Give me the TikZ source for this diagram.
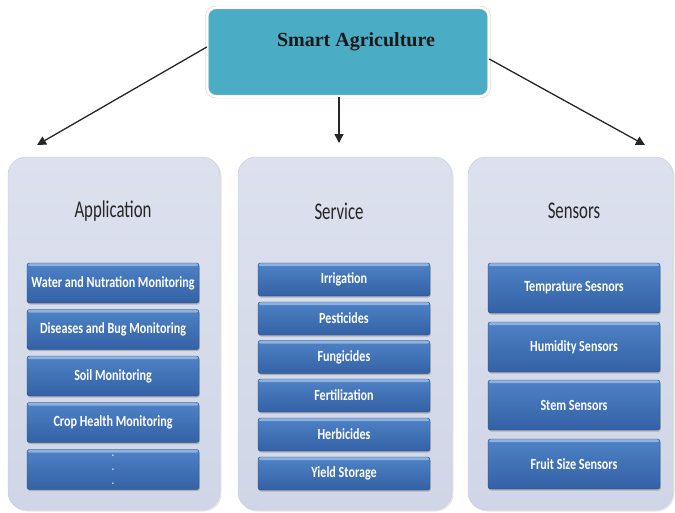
\documentclass[tikz,border=0pt]{standalone}
\usepackage{fontspec}
\setmainfont{Liberation Serif}
\newfontfamily\btnfont[FakeStretch=0.78]{Carlito}
\newfontfamily\headfont[FakeStretch=0.7]{Carlito}
\usepackage{tikz}
\usetikzlibrary{arrows.meta,shadows,positioning}

\definecolor{tealbox}{HTML}{4BACC6}
\definecolor{paneltop}{HTML}{DDE1EE}
\definecolor{panelbot}{HTML}{D0D6E7}
\definecolor{btnhi}{HTML}{8DB1E0}
\definecolor{btntop}{HTML}{4E82C6}
\definecolor{btnbot}{HTML}{3461A5}
\definecolor{btnedge}{HTML}{284A78}

\begin{document}
\begin{tikzpicture}[x=1pt, y=-1pt,
    rootbox/.style={draw=gray!45, double=white, double distance=2.6pt, fill=tealbox,
        rounded corners=9pt, minimum width=282pt, minimum height=89pt,
        drop shadow={opacity=0.25, shadow xshift=1pt, shadow yshift=-1.5pt}},
    panel/.style={fill=panelbot, top color=paneltop, bottom color=panelbot,
        draw=panelbot!90!gray, rounded corners=18pt, minimum height=353pt,
        drop shadow={opacity=0.2, shadow xshift=1.5pt, shadow yshift=-1.5pt}},
    paneltitle/.style={font=\headfont\fontsize{24}{26}\selectfont, text=black!85},
    btn/.style={draw=btnedge, top color=btntop, bottom color=btnbot, rounded corners=2.5pt,
        minimum width=172pt, text=white, align=center,
        font=\btnfont\bfseries\fontsize{15.5}{17}\selectfont,
        path picture={\fill[btnhi] ([yshift=0.5pt]path picture bounding box.north west)
            rectangle ([yshift=-3pt]path picture bounding box.north east);},
        drop shadow={opacity=0.45, shadow xshift=0.8pt, shadow yshift=-1.6pt}},
    link/.style={-{Triangle[length=9pt,width=9pt]}, line width=1.3pt, black!85}]
\useasboundingbox (0,0) rectangle (675,512);

% Top box
\node[rootbox] (root) at (348,52) {};
\node[font=\bfseries\fontsize{20}{22}\selectfont, text=black!90] (title) at (356,42) {Smart Agriculture};

% Three columns
\node[panel, minimum width=212pt] (app) at (114,333.5) {};
\node[panel, minimum width=214pt] (serv) at (345,333.5) {};
\node[panel, minimum width=205pt] (sens) at (570.5,333.5) {};

\node[paneltitle] (appT) at (113,211) {Application};
\node[paneltitle] (servT) at (339,211) {Service};
\node[paneltitle] (sensT) at (574,211) {Sensors};

% Arrows from the top box
\coordinate (appTip) at (37,145);
\coordinate (servTip) at (339,143);
\coordinate (sensTip) at (645,145);
\draw[link] ([yshift=5pt]root.west) -- (appTip);
\draw[link] ([xshift=-9pt]root.south) -- (servTip);
\draw[link] ([yshift=-7pt]root.east) -- (sensTip);

% Application
\node[btn, minimum height=40pt] (app1) at (113,283) {Water and Nutration Monitoring};
\node[btn, minimum height=40pt] (app2) at (113,329.5) {Diseases and Bug Monitoring};
\node[btn, minimum height=40pt] (app3) at (113,376) {Soil Monitoring};
\node[btn, minimum height=40pt] (app4) at (113,422.5) {Crop Health Monitoring};
\node[btn, minimum height=40pt, font=\btnfont\bfseries\fontsize{11}{14}\selectfont] (app5) at (113,469.5) {.\\.\\.};

% Service
\node[btn, minimum height=33pt] (serv1) at (344,279.5) {Irrigation};
\node[btn, minimum height=33pt] (serv2) at (344,318.5) {Pesticides};
\node[btn, minimum height=33pt] (serv3) at (344,357) {Fungicides};
\node[btn, minimum height=33pt] (serv4) at (344,395.5) {Fertilization};
\node[btn, minimum height=33pt] (serv5) at (344,434.5) {Herbicides};
\node[btn, minimum height=33pt] (serv6) at (344,473.5) {Yield Storage};

% Sensors
\node[btn, minimum height=50pt] (sens1) at (574,288) {Temprature Sesnors};
\node[btn, minimum height=50pt] (sens2) at (574,347) {Humidity Sensors};
\node[btn, minimum height=50pt] (sens3) at (574,405) {Stem Sensors};
\node[btn, minimum height=50pt] (sens4) at (574,464) {Fruit Size Sensors};
\end{tikzpicture}
\end{document}
